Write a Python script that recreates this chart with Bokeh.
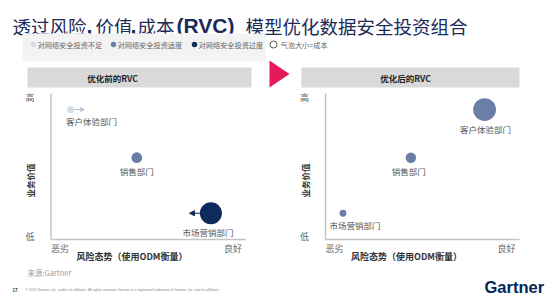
from math import pi, sqrt
from bokeh.plotting import figure
from bokeh.models import Range1d, Arrow, VeeHead, NormalHead
from bokeh.core.properties import value
from bokeh.embed import file_html
from bokeh.resources import INLINE

# ---------------- data ----------------
departments = ["客户体验部门", "销售部门", "市场营销部门"]
risk_before = [1.0, 4.4, 8.2]          # 风险态势 0 = 恶劣, 10 = 良好
value_before = [8.9, 5.6, 1.8]         # 业务价值 0 = 低, 10 = 高
cost_before = [1.3, 3.2, 13.5]         # 成本 (relative)
status_before = ["不足", "适度", "过度"]
arrow_to_before = [1.7, None, 7.1]     # planned shift in risk posture

risk_after = [8.2, 4.4, 0.9]
value_after = [8.9, 5.6, 1.8]
cost_after = [14.5, 3.0, 1.3]
status_after = ["适度", "适度", "适度"]

statuses = ["不足", "适度", "过度"]
legend_labels = ["对网络安全投资不足", "对网络安全投资适度", "对网络安全投资过度", "气泡大小=成本"]
panel_titles = ["优化前的RVC", "优化后的RVC"]
value_tick_labels = ["低", "高"]
risk_tick_labels = ["恶劣", "良好"]
value_axis_title = "业务价值"
risk_axis_title = "风险态势（使用ODM衡量）"
title_parts = ["透过风险", ",", "价值", ",", "成本", "(RVC)", "模型优化数据安全投资组合"]
source_note = "来源:Gartner"
page_no = "17"
copyright_note = ("© 2021 Gartner, Inc. and/or its affiliates. All rights reserved. Gartner is a "
                  "registered trademark of Gartner, Inc. and its affiliates.")
logo_text = "Gartner"

# ---------------- styles ----------------
CJK = value("Noto Sans CJK SC")
LAT = value("Liberation Sans")
NAVY = "#1b2b57"
status_colors = {"不足": "#d3dbe6", "适度": "#6b7ea6", "过度": "#0f2a5c"}

W, H = 555, 300
# panel axis placement (screen px): (x at 0, x at 10)
panel_px = [(50.5, 245.5), (325.0, 519.0)]
Y0_PX, Y10_PX = 239.0, 93.0

p = figure(width=W, height=H, x_range=Range1d(0, W), y_range=Range1d(H, 0),
           output_backend="svg", toolbar_location=None, min_border=0,
           x_axis_type=None, y_axis_type=None, outline_line_color=None,
           background_fill_color="white", border_fill_color="white")
p.xgrid.visible = False
p.ygrid.visible = False

ys = (Y0_PX - Y10_PX) / 10.0
p.extra_y_ranges = {"V": Range1d(start=(Y0_PX - H) / ys, end=Y0_PX / ys)}
xr = {}
for name, (a, b) in zip(["L", "R"], panel_px):
    s = (b - a) / 10.0
    xr[name] = Range1d(start=-a / s, end=(W - a) / s)
p.extra_x_ranges = xr

# ---------------- title ----------------
title_x = [12, 86, 95, 130, 137, 176, 245]
for txt, tx in zip(title_parts, title_x):
    latin = txt in (",", "(RVC)")
    p.text(x=[tx], y=[25], text=[txt], text_font=LAT if latin else CJK,
           text_font_size="21px" if latin else "18.5px",
           text_font_style="bold" if latin else "normal",
           text_color=NAVY, text_align="left", text_baseline="alphabetic")

# ---------------- legend ----------------
p.quad(left=[22], right=[265], top=[33], bottom=[61], fill_color="#f3f3f3", line_color=None)
leg_x = [33, 113, 194, 273]
leg_tx = [37, 117, 198, 280]
for i, lab in enumerate(legend_labels):
    if i < 3:
        p.scatter(x=[leg_x[i]], y=[44], size=5.5, fill_color=status_colors[statuses[i]], line_color=None)
    else:
        p.scatter(x=[leg_x[i]], y=[44], size=7, fill_color="white", line_color="#555555", line_width=1)
    p.text(x=[leg_tx[i]], y=[44], text=[lab], text_font=CJK, text_font_size="7.2px",
           text_color="#666666", text_align="left", text_baseline="middle")

# pink transition arrow
p.patch(x=[269, 269, 289], y=[60, 87, 73.5], fill_color="#e5185a", line_color=None)

# ---------------- panels ----------------
panels = [
    ("L", risk_before, value_before, cost_before, status_before, arrow_to_before, [21, 0, -3]),
    ("R", risk_after, value_after, cost_after, status_after, [None, None, None], [1, -2, 12]),
]
band_px = [(27, 251, 112), (301, 519, 405)]

for k, (rn, rx, vy, cost, stat, arr, label_dx) in enumerate(panels):
    a, b = panel_px[k]
    bl, br, bc = band_px[k]
    p.quad(left=[bl], right=[br], top=[67], bottom=[87], fill_color="#d9d9d9", line_color=None)
    p.text(x=[bc], y=[77.5], text=[panel_titles[k]], text_font=CJK, text_font_size="8.5px",
           text_font_style="bold", text_color="#222222", text_align="center", text_baseline="middle")

    # axes
    p.line(x=[0, 0, 10], y=[10, 0, 0], x_range_name=rn, y_range_name="V",
           line_color="#c4c4c4", line_width=1.5)
    p.text(x=[0, 0], y=[0, 10], text=value_tick_labels, x_range_name=rn, y_range_name="V",
           x_offset=-21, y_offset=[-3, 4], text_font=CJK, text_font_size="9px",
           text_color="#666666", text_align="center", text_baseline="middle")
    p.text(x=[0, 10], y=[0, 0], text=risk_tick_labels, x_range_name=rn, y_range_name="V",
           x_offset=[9, -13], y_offset=9, text_font=CJK, text_font_size="9px",
           text_color="#666666", text_align="center", text_baseline="middle")
    p.text(x=[a - 21], y=[180], text=[value_axis_title], angle=pi / 2,
           text_font=CJK, text_font_size="8.5px", text_font_style="bold",
           text_color="#333333", text_align="center", text_baseline="middle")
    p.text(x=[a + 81], y=[256], text=[risk_axis_title], text_font=CJK, text_font_size="9px",
           text_font_style="bold", text_color="#333333", text_align="center", text_baseline="middle")

    sizes = [6.0 * sqrt(c) for c in cost]
    colors = [status_colors[s] for s in stat]

    # arrows (under bubbles)
    for i, tgt in enumerate(arr):
        if tgt is None:
            continue
        col = "#b3c0d2" if stat[i] == "不足" else status_colors[stat[i]]
        head = (VeeHead(size=4, line_color=col, line_width=1, fill_color=col) if stat[i] == "不足"
                else NormalHead(size=5, line_color=col, fill_color=col))
        p.add_layout(Arrow(end=head, x_start=rx[i], y_start=vy[i], x_end=tgt, y_end=vy[i],
                           x_range_name=rn, y_range_name="V", line_color=col, line_width=1,
                           level="underlay"))

    p.scatter(x=rx, y=vy, size=sizes, fill_color=colors, line_color=None,
              x_range_name=rn, y_range_name="V")
    p.text(x=rx, y=vy, text=departments, x_range_name=rn, y_range_name="V",
           x_offset=label_dx, y_offset=[sz / 2 + 8 for sz in sizes],
           text_font=CJK, text_font_size="8.5px", text_color="#555555",
           text_align="center", text_baseline="middle")

# ---------------- footer ----------------
p.text(x=[27], y=[272], text=[source_note], text_font=CJK, text_font_size="7.5px",
       text_color="#a0a0a0", text_align="left", text_baseline="middle")
p.text(x=[12], y=[289], text=[page_no], text_font=LAT, text_font_size="4.5px",
       text_font_style="bold", text_color="#333333", text_align="left", text_baseline="middle")
p.text(x=[25], y=[289], text=[copyright_note], text_font=LAT, text_font_size="3.5px",
       text_color="#888888", text_align="left", text_baseline="middle")
p.text(x=[484], y=[286], text=[logo_text], text_font=LAT, text_font_size="16.5px",
       text_font_style="bold", text_color="#002856", text_align="left", text_baseline="middle")

open("out.html", "w").write(file_html(p, INLINE))
